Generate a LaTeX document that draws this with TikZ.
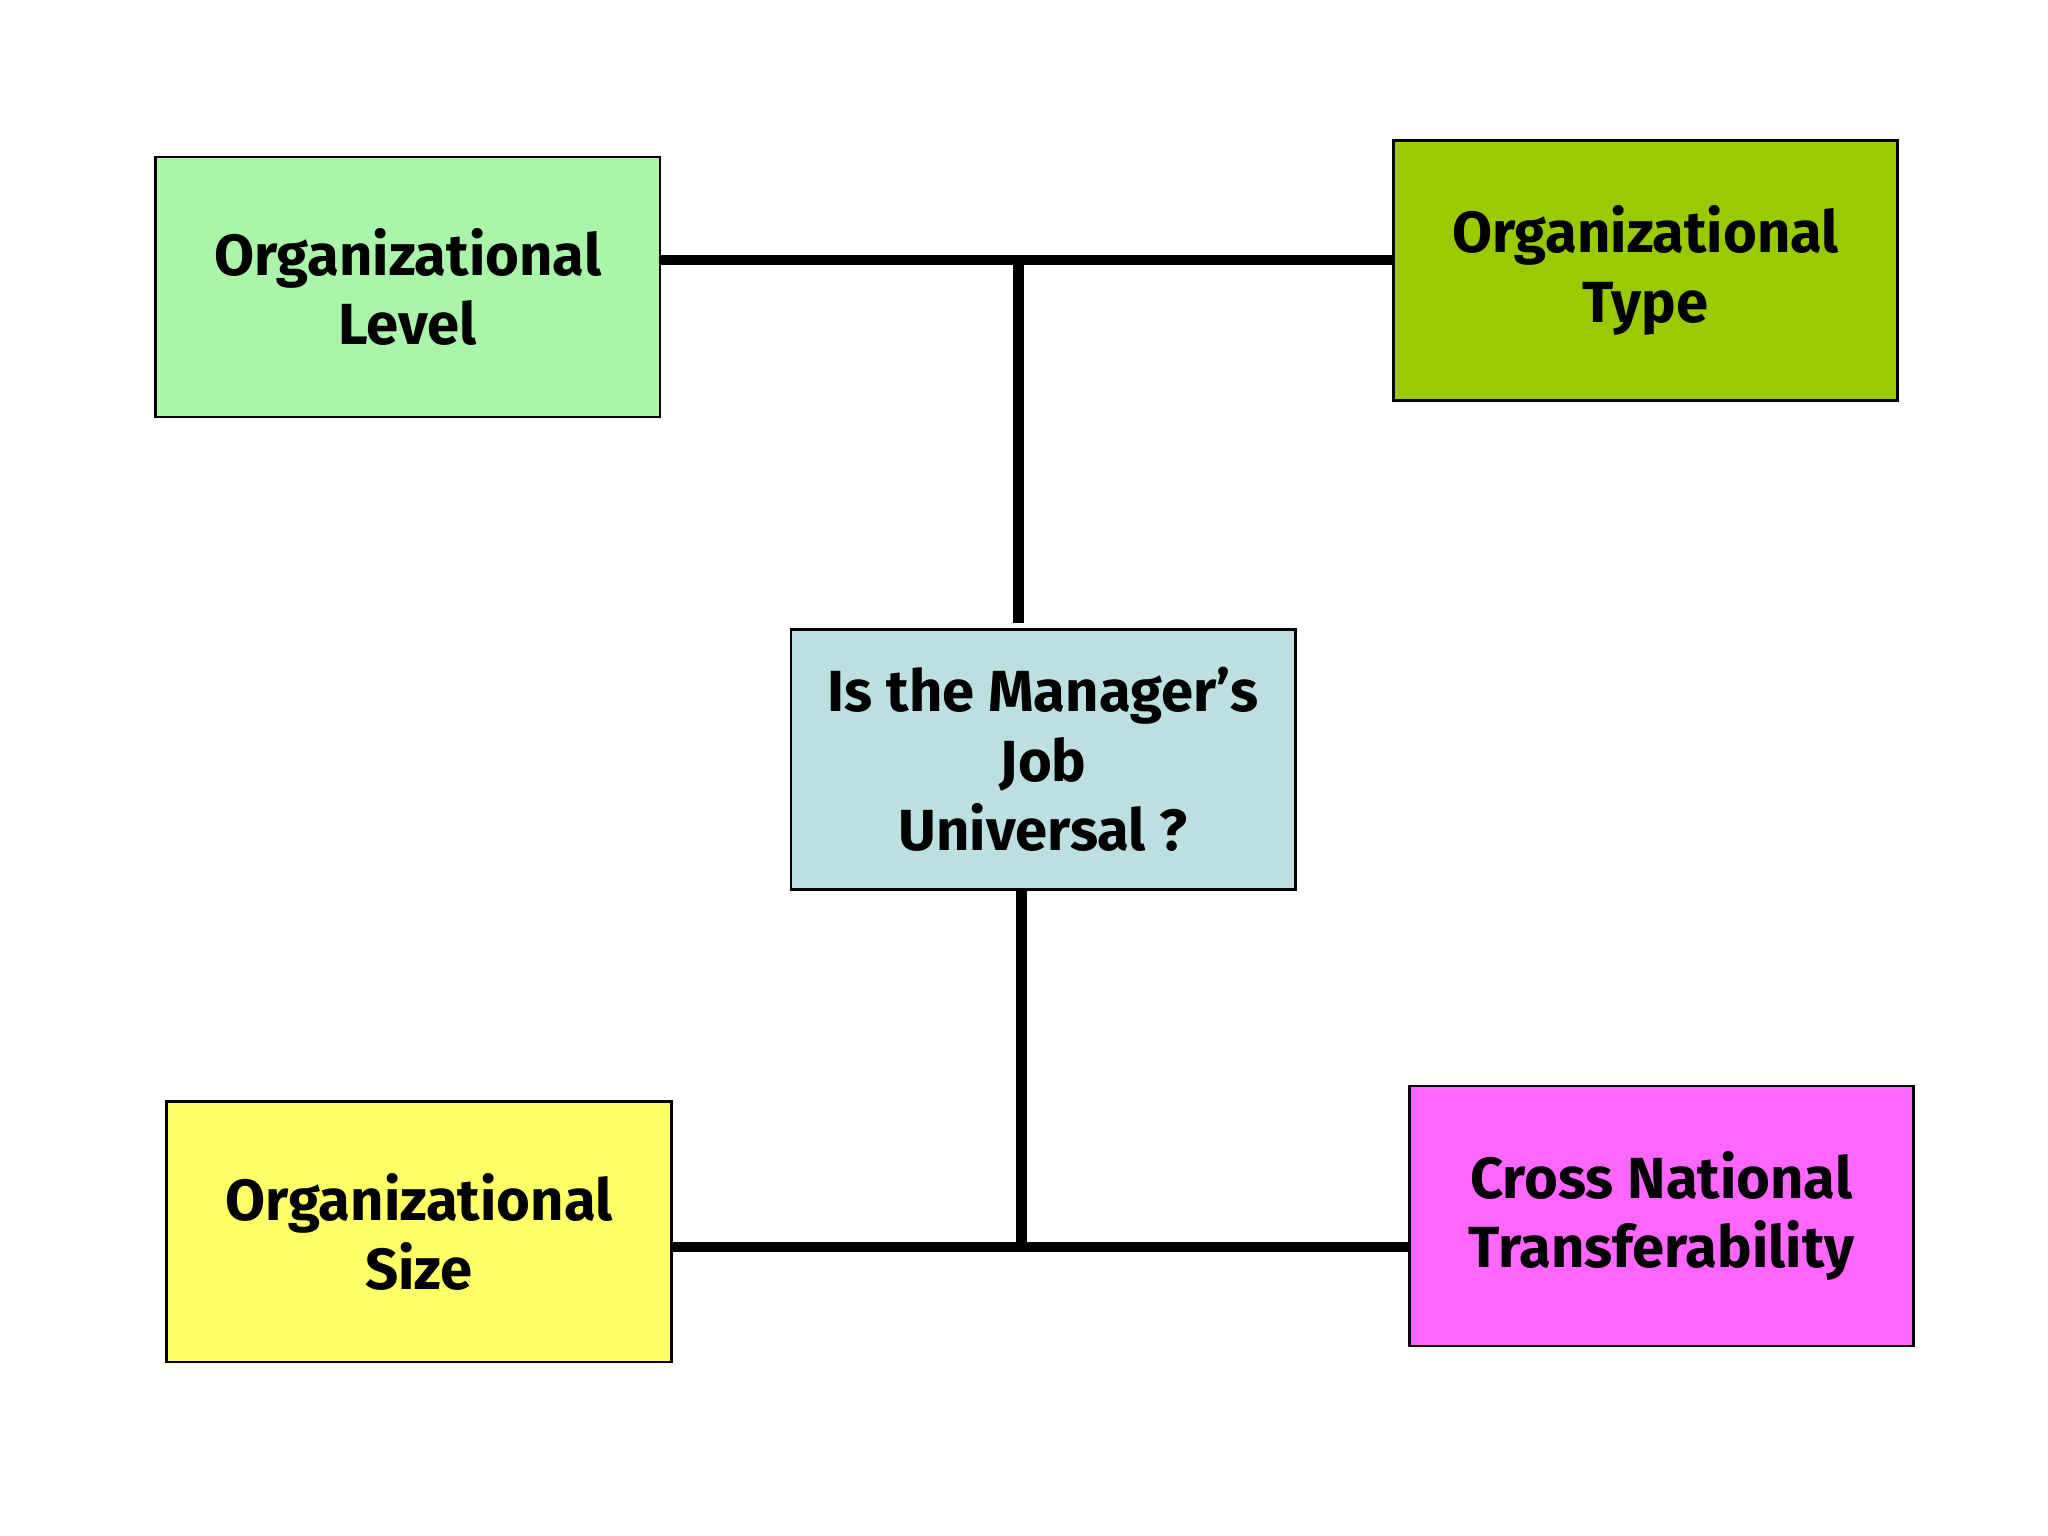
\documentclass[tikz,border=0pt]{standalone}
\usepackage{fontspec}
\setmainfont{Fira Sans}
\definecolor{cLevel}{HTML}{ABF5AB}
\definecolor{cType}{HTML}{99CC00}
\definecolor{cMid}{HTML}{BCE0E2}
\definecolor{cSize}{HTML}{FFFF66}
\definecolor{cCross}{HTML}{FF66FF}
\begin{document}
\begin{tikzpicture}[x=0.01cm,y=-0.01cm,
  box/.style={draw=black,line width=0.6pt,minimum width=3.82cm,minimum height=1.97cm,align=center,inner sep=0pt,font=\fontsize{12.5}{15}\selectfont\bfseries},
  bar/.style={line width=2.3pt,black}]
\useasboundingbox (0,0) rectangle (1552,1164);
\node[box,fill=cLevel] (lvl) at (309,217.5) {Organizational\\Level};
\node[box,fill=cType] (typ) at (1247,205) {Organizational\\Type};
\node[box,fill=cMid] (mid) at (790.5,575.5) {Is the Manager’s\\Job\\Universal ?};
\node[box,fill=cSize] (siz) at (317.5,933.5) {Organizational\\Size};
\node[box,fill=cCross] (crs) at (1259,921.5) {Cross National\\Transferability};
\coordinate (t1) at (772,197);
\coordinate (t2) at (772,472);
\coordinate (b1) at (774,945);
\draw[bar] (lvl.east |- t1) -- (typ.west |- t1);
\draw[bar] (t1) -- (t2);
\draw[bar] (mid.south -| b1) -- (b1);
\draw[bar] (siz.east |- b1) -- (crs.west |- b1);
\end{tikzpicture}
\end{document}
